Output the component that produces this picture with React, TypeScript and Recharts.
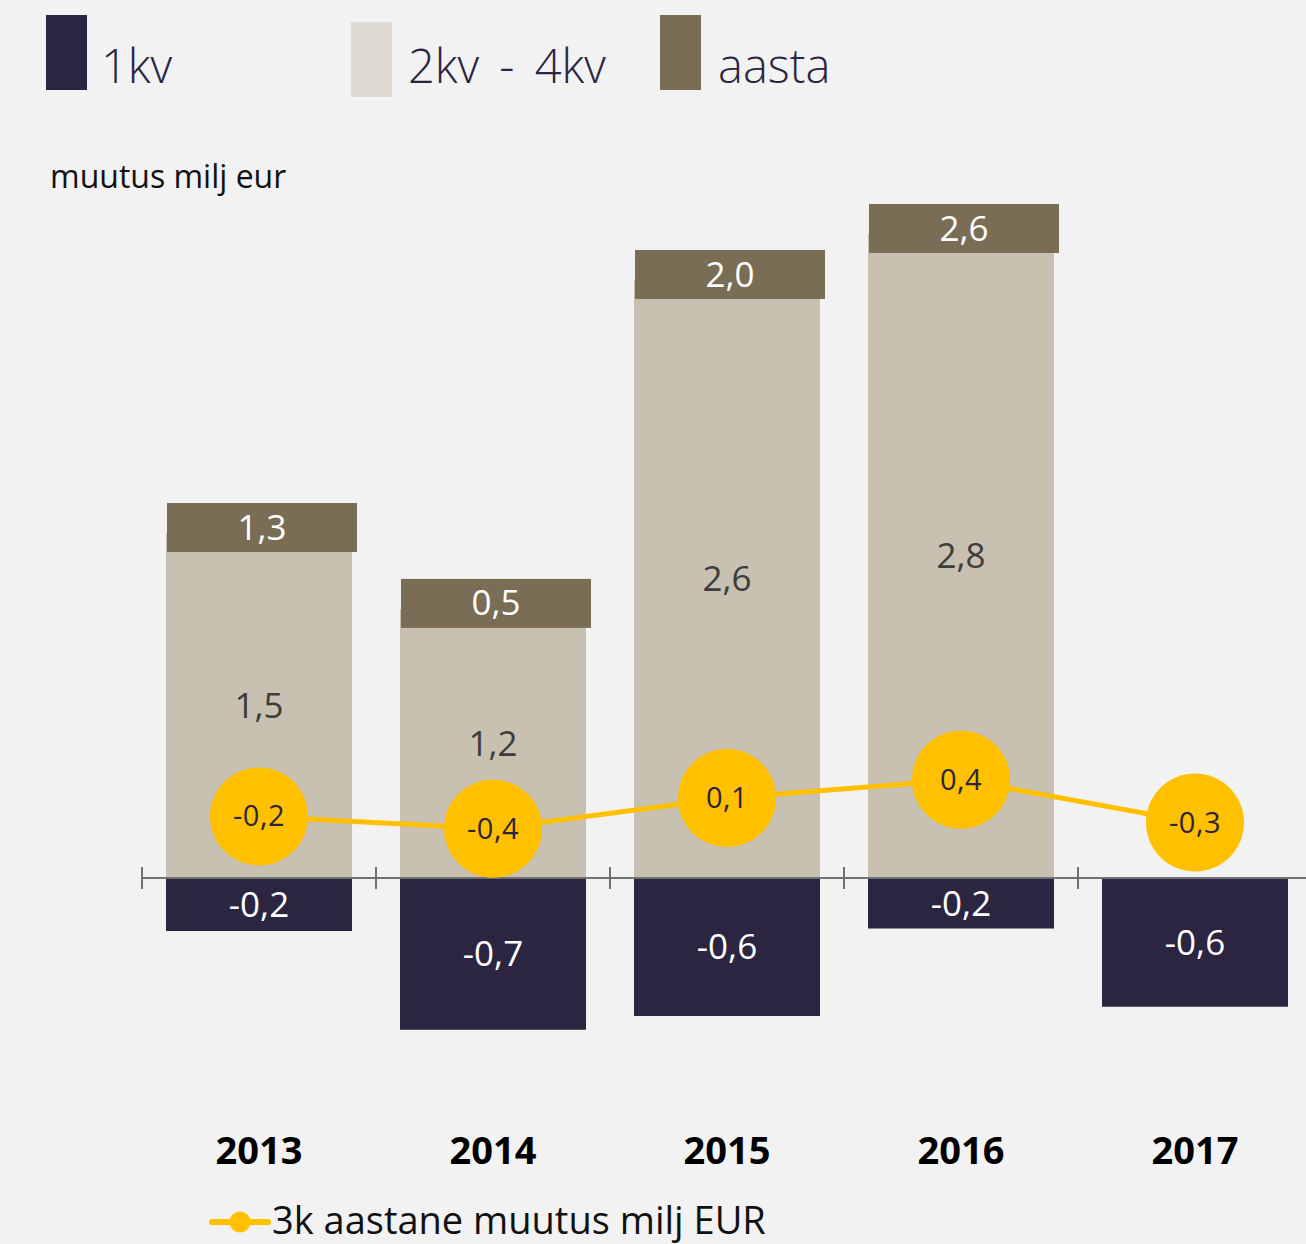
import React from 'react';
import { ComposedChart, Bar, Line, XAxis, YAxis, ReferenceLine, LabelList } from 'recharts';

// ---- data ----
const years = ['2013', '2014', '2015', '2016', '2017'];
const q1Change = [-0.23, -0.66, -0.6, -0.22, -0.56];
const q2to4Change = [1.5, 1.17, 2.6, 2.8, null];
const annualChange = [1.3, 0.5, 2.0, 2.6, null];
const threeQuarterAnnual = [-0.2, -0.4, 0.1, 0.4, -0.3];

const legendLabels = ['1kv', '2kv - 4kv', 'aasta'];
const lineLegendLabel = '3k aastane muutus milj EUR';
const axisTitle = 'muutus milj eur';

const C = {
  bg: '#f2f2f2',
  q1: '#2b2541',
  rest: '#c8c0b0',
  restLegend: '#dedad3',
  annual: '#7a6d55',
  line: '#ffc000',
  axis: '#707070',
  dark: '#2b2541',
  restText: '#3d3d3d',
};
const legendColors = [C.q1, C.restLegend, C.annual];
const FONT = '"Open Sans", "DejaVu Sans", sans-serif';

const data = years.map((y, i) => ({
  year: y,
  q1: q1Change[i],
  rest: q2to4Change[i],
  aasta: annualChange[i],
  line: threeQuarterAnnual[i],
}));

const fmt = (v: any) => (v == null || v === '' ? '' : Number(v).toFixed(1).replace('.', ','));

const AastaBox = (props: any) => {
  const { value } = props;
  if (value == null) return null;
  const vb = props.viewBox ?? props;
  if (vb == null || vb.x == null) return null;
  const top0 = Math.min(vb.y, vb.y + vb.height);
  const w = 190;
  const h = 49;
  const x = vb.x + 1;
  const top = top0 - 30;
  return (
    <g>
      <rect x={x} y={top} width={w} height={h} fill={C.annual} />
      <text x={x + w / 2} y={top + h / 2 + 12} textAnchor="middle" fontSize={35} fill="#ffffff" fontFamily={FONT}>
        {fmt(value)}
      </text>
    </g>
  );
};

const renderDot = (p: any) => {
  const { cx, cy, index } = p;
  const v = p.value ?? p.payload?.line;
  if (cx == null || cy == null) return <g key={`d${index}`} />;
  return (
    <g key={`d${index}`}>
      <circle cx={cx} cy={cy} r={49} fill={C.line} />
      <text x={cx} y={cy + 10} textAnchor="middle" fontSize={29} letterSpacing={0.5} fill={C.dark} fontFamily={FONT}>
        {fmt(v)}
      </text>
    </g>
  );
};

const ZeroAxis = (p: any) => {
  const { x1, y1, x2, y2 } = p;
  const n = years.length;
  const step = (x2 - x1) / n;
  return (
    <g>
      <line x1={x1} y1={y1} x2={x2} y2={y2} stroke={C.axis} strokeWidth={2} />
      {years.map((_, i) => (
        <line key={i} x1={x1 + i * step} x2={x1 + i * step} y1={y1 - 11} y2={y1 + 11} stroke={C.axis} strokeWidth={2} />
      ))}
    </g>
  );
};

const CatTick = (p: any) => (
  <text x={p.x} y={p.y + 48} textAnchor="middle" fontSize={38} fontWeight={700} fill="#000" fontFamily={FONT}>
    {p.payload?.value}
  </text>
);

const legendPos = [
  { sx: 46, sy: 15, tx: 101 },
  { sx: 351, sy: 22, tx: 408 },
  { sx: 660, sy: 15, tx: 718 },
];

export default function App() {
  return (
    <div
      style={{
        position: 'absolute',
        top: 0,
        left: 0,
        width: 1306,
        height: 1244,
        overflow: 'hidden',
        background: C.bg,
        fontFamily: FONT,
      }}
    >
      <ComposedChart
        width={1320}
        height={1244}
        data={data}
        stackOffset="sign"
        barCategoryGap={24}
        margin={{ top: 188, right: 8, bottom: 76, left: 142 }}
      >
        <XAxis dataKey="year" axisLine={false} tickLine={false} height={60} interval={0} tick={CatTick} />
        <YAxis yAxisId="left" hide domain={[-1, 3]} allowDataOverflow />
        <YAxis yAxisId="right" orientation="right" hide domain={[-4.96, 10.06]} allowDataOverflow />
        <Bar dataKey="rest" name={legendLabels[1]} yAxisId="left" stackId="s" fill={C.rest} isAnimationActive={false}>
          <LabelList
            dataKey="rest"
            position="center"
            formatter={fmt}
            fill={C.restText}
            fontSize={35}
            fontFamily={FONT}
          />
          <LabelList dataKey="aasta" content={AastaBox} />
        </Bar>
        <Bar dataKey="q1" name={legendLabels[0]} yAxisId="left" stackId="s" fill={C.q1} isAnimationActive={false}>
          <LabelList dataKey="q1" position="center" formatter={fmt} fill="#ffffff" fontSize={35} fontFamily={FONT} />
        </Bar>
        <ReferenceLine y={0} yAxisId="left" shape={ZeroAxis} />
        <Line
          dataKey="line"
          name={lineLegendLabel}
          yAxisId="right"
          type="linear"
          stroke={C.line}
          strokeWidth={5}
          dot={renderDot}
          activeDot={false}
          isAnimationActive={false}
        />
      </ComposedChart>
      <svg
        width={1306}
        height={1244}
        style={{ position: 'absolute', top: 0, left: 0, pointerEvents: 'none' }}
      >
        {legendLabels.map((lab, i) => (
          <g key={lab}>
            <rect x={legendPos[i].sx} y={legendPos[i].sy} width={41} height={75} fill={legendColors[i]} />
            <text
              x={legendPos[i].tx}
              y={83}
              fontSize={47}
              fontWeight={300}
              fill={C.dark}
              fontFamily={FONT}
              style={{ wordSpacing: 8 }}
            >
              {lab}
            </text>
          </g>
        ))}
        <text x={50} y={188} fontSize={32} fill="#111" fontFamily={FONT}>
          {axisTitle}
        </text>
        <line x1={212} y1={1222} x2={268} y2={1222} stroke={C.line} strokeWidth={6} strokeLinecap="round" />
        <circle cx={240} cy={1222} r={10.5} fill={C.line} />
        <text x={272} y={1234} fontSize={38} fill="#111" fontFamily={FONT}>
          {lineLegendLabel}
        </text>
      </svg>
    </div>
  );
}
